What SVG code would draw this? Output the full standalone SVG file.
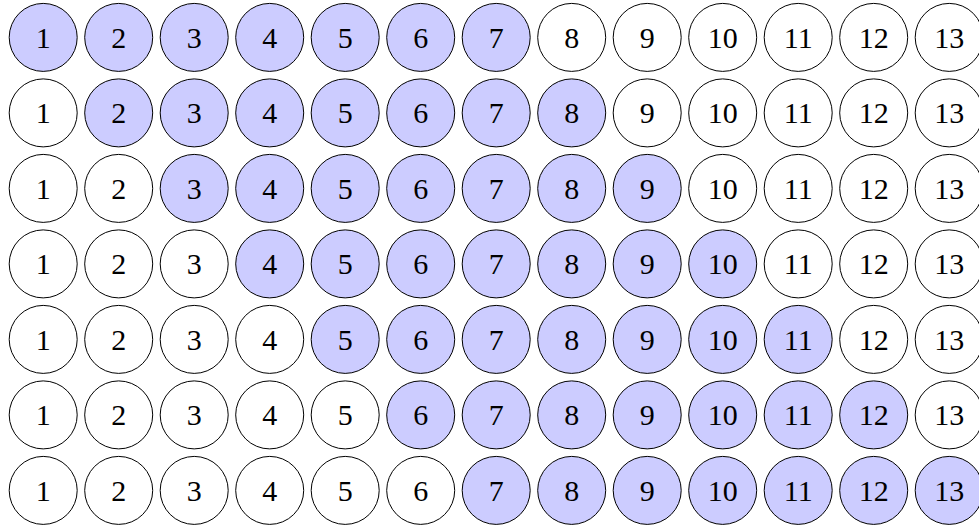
<svg xmlns="http://www.w3.org/2000/svg" width="979" height="527" viewBox="0 0 979 527">
<style>
circle{stroke:#000;stroke-width:1;fill:#fff}
.f circle{fill:#ccccff}
text{font-family:"Liberation Serif","Times New Roman",serif;font-size:30px;text-anchor:middle;fill:#000}
</style>
<rect width="979" height="527" fill="#fff"/>
<g id="row1" transform="translate(0,37.4)">
<g id="r1c1" class="f" transform="translate(43.2,0)"><circle r="34"/><text y="10.5">1</text></g>
<g id="r1c2" class="f" transform="translate(118.7,0)"><circle r="34"/><text y="10.5">2</text></g>
<g id="r1c3" class="f" transform="translate(194.2,0)"><circle r="34"/><text y="10.5">3</text></g>
<g id="r1c4" class="f" transform="translate(269.7,0)"><circle r="34"/><text y="10.5">4</text></g>
<g id="r1c5" class="f" transform="translate(345.2,0)"><circle r="34"/><text y="10.5">5</text></g>
<g id="r1c6" class="f" transform="translate(420.7,0)"><circle r="34"/><text y="10.5">6</text></g>
<g id="r1c7" class="f" transform="translate(496.2,0)"><circle r="34"/><text y="10.5">7</text></g>
<g id="r1c8" transform="translate(571.7,0)"><circle r="34"/><text y="10.5">8</text></g>
<g id="r1c9" transform="translate(647.2,0)"><circle r="34"/><text y="10.5">9</text></g>
<g id="r1c10" transform="translate(722.7,0)"><circle r="34"/><text y="10.5">10</text></g>
<g id="r1c11" transform="translate(798.2,0)"><circle r="34"/><text y="10.5">11</text></g>
<g id="r1c12" transform="translate(873.7,0)"><circle r="34"/><text y="10.5">12</text></g>
<g id="r1c13" transform="translate(949.2,0)"><circle r="34"/><text y="10.5">13</text></g>
</g>
<g id="row2" transform="translate(0,112.9)">
<g id="r2c1" transform="translate(43.2,0)"><circle r="34"/><text y="10.5">1</text></g>
<g id="r2c2" class="f" transform="translate(118.7,0)"><circle r="34"/><text y="10.5">2</text></g>
<g id="r2c3" class="f" transform="translate(194.2,0)"><circle r="34"/><text y="10.5">3</text></g>
<g id="r2c4" class="f" transform="translate(269.7,0)"><circle r="34"/><text y="10.5">4</text></g>
<g id="r2c5" class="f" transform="translate(345.2,0)"><circle r="34"/><text y="10.5">5</text></g>
<g id="r2c6" class="f" transform="translate(420.7,0)"><circle r="34"/><text y="10.5">6</text></g>
<g id="r2c7" class="f" transform="translate(496.2,0)"><circle r="34"/><text y="10.5">7</text></g>
<g id="r2c8" class="f" transform="translate(571.7,0)"><circle r="34"/><text y="10.5">8</text></g>
<g id="r2c9" transform="translate(647.2,0)"><circle r="34"/><text y="10.5">9</text></g>
<g id="r2c10" transform="translate(722.7,0)"><circle r="34"/><text y="10.5">10</text></g>
<g id="r2c11" transform="translate(798.2,0)"><circle r="34"/><text y="10.5">11</text></g>
<g id="r2c12" transform="translate(873.7,0)"><circle r="34"/><text y="10.5">12</text></g>
<g id="r2c13" transform="translate(949.2,0)"><circle r="34"/><text y="10.5">13</text></g>
</g>
<g id="row3" transform="translate(0,188.4)">
<g id="r3c1" transform="translate(43.2,0)"><circle r="34"/><text y="10.5">1</text></g>
<g id="r3c2" transform="translate(118.7,0)"><circle r="34"/><text y="10.5">2</text></g>
<g id="r3c3" class="f" transform="translate(194.2,0)"><circle r="34"/><text y="10.5">3</text></g>
<g id="r3c4" class="f" transform="translate(269.7,0)"><circle r="34"/><text y="10.5">4</text></g>
<g id="r3c5" class="f" transform="translate(345.2,0)"><circle r="34"/><text y="10.5">5</text></g>
<g id="r3c6" class="f" transform="translate(420.7,0)"><circle r="34"/><text y="10.5">6</text></g>
<g id="r3c7" class="f" transform="translate(496.2,0)"><circle r="34"/><text y="10.5">7</text></g>
<g id="r3c8" class="f" transform="translate(571.7,0)"><circle r="34"/><text y="10.5">8</text></g>
<g id="r3c9" class="f" transform="translate(647.2,0)"><circle r="34"/><text y="10.5">9</text></g>
<g id="r3c10" transform="translate(722.7,0)"><circle r="34"/><text y="10.5">10</text></g>
<g id="r3c11" transform="translate(798.2,0)"><circle r="34"/><text y="10.5">11</text></g>
<g id="r3c12" transform="translate(873.7,0)"><circle r="34"/><text y="10.5">12</text></g>
<g id="r3c13" transform="translate(949.2,0)"><circle r="34"/><text y="10.5">13</text></g>
</g>
<g id="row4" transform="translate(0,263.9)">
<g id="r4c1" transform="translate(43.2,0)"><circle r="34"/><text y="10.5">1</text></g>
<g id="r4c2" transform="translate(118.7,0)"><circle r="34"/><text y="10.5">2</text></g>
<g id="r4c3" transform="translate(194.2,0)"><circle r="34"/><text y="10.5">3</text></g>
<g id="r4c4" class="f" transform="translate(269.7,0)"><circle r="34"/><text y="10.5">4</text></g>
<g id="r4c5" class="f" transform="translate(345.2,0)"><circle r="34"/><text y="10.5">5</text></g>
<g id="r4c6" class="f" transform="translate(420.7,0)"><circle r="34"/><text y="10.5">6</text></g>
<g id="r4c7" class="f" transform="translate(496.2,0)"><circle r="34"/><text y="10.5">7</text></g>
<g id="r4c8" class="f" transform="translate(571.7,0)"><circle r="34"/><text y="10.5">8</text></g>
<g id="r4c9" class="f" transform="translate(647.2,0)"><circle r="34"/><text y="10.5">9</text></g>
<g id="r4c10" class="f" transform="translate(722.7,0)"><circle r="34"/><text y="10.5">10</text></g>
<g id="r4c11" transform="translate(798.2,0)"><circle r="34"/><text y="10.5">11</text></g>
<g id="r4c12" transform="translate(873.7,0)"><circle r="34"/><text y="10.5">12</text></g>
<g id="r4c13" transform="translate(949.2,0)"><circle r="34"/><text y="10.5">13</text></g>
</g>
<g id="row5" transform="translate(0,339.4)">
<g id="r5c1" transform="translate(43.2,0)"><circle r="34"/><text y="10.5">1</text></g>
<g id="r5c2" transform="translate(118.7,0)"><circle r="34"/><text y="10.5">2</text></g>
<g id="r5c3" transform="translate(194.2,0)"><circle r="34"/><text y="10.5">3</text></g>
<g id="r5c4" transform="translate(269.7,0)"><circle r="34"/><text y="10.5">4</text></g>
<g id="r5c5" class="f" transform="translate(345.2,0)"><circle r="34"/><text y="10.5">5</text></g>
<g id="r5c6" class="f" transform="translate(420.7,0)"><circle r="34"/><text y="10.5">6</text></g>
<g id="r5c7" class="f" transform="translate(496.2,0)"><circle r="34"/><text y="10.5">7</text></g>
<g id="r5c8" class="f" transform="translate(571.7,0)"><circle r="34"/><text y="10.5">8</text></g>
<g id="r5c9" class="f" transform="translate(647.2,0)"><circle r="34"/><text y="10.5">9</text></g>
<g id="r5c10" class="f" transform="translate(722.7,0)"><circle r="34"/><text y="10.5">10</text></g>
<g id="r5c11" class="f" transform="translate(798.2,0)"><circle r="34"/><text y="10.5">11</text></g>
<g id="r5c12" transform="translate(873.7,0)"><circle r="34"/><text y="10.5">12</text></g>
<g id="r5c13" transform="translate(949.2,0)"><circle r="34"/><text y="10.5">13</text></g>
</g>
<g id="row6" transform="translate(0,414.9)">
<g id="r6c1" transform="translate(43.2,0)"><circle r="34"/><text y="10.5">1</text></g>
<g id="r6c2" transform="translate(118.7,0)"><circle r="34"/><text y="10.5">2</text></g>
<g id="r6c3" transform="translate(194.2,0)"><circle r="34"/><text y="10.5">3</text></g>
<g id="r6c4" transform="translate(269.7,0)"><circle r="34"/><text y="10.5">4</text></g>
<g id="r6c5" transform="translate(345.2,0)"><circle r="34"/><text y="10.5">5</text></g>
<g id="r6c6" class="f" transform="translate(420.7,0)"><circle r="34"/><text y="10.5">6</text></g>
<g id="r6c7" class="f" transform="translate(496.2,0)"><circle r="34"/><text y="10.5">7</text></g>
<g id="r6c8" class="f" transform="translate(571.7,0)"><circle r="34"/><text y="10.5">8</text></g>
<g id="r6c9" class="f" transform="translate(647.2,0)"><circle r="34"/><text y="10.5">9</text></g>
<g id="r6c10" class="f" transform="translate(722.7,0)"><circle r="34"/><text y="10.5">10</text></g>
<g id="r6c11" class="f" transform="translate(798.2,0)"><circle r="34"/><text y="10.5">11</text></g>
<g id="r6c12" class="f" transform="translate(873.7,0)"><circle r="34"/><text y="10.5">12</text></g>
<g id="r6c13" transform="translate(949.2,0)"><circle r="34"/><text y="10.5">13</text></g>
</g>
<g id="row7" transform="translate(0,490.4)">
<g id="r7c1" transform="translate(43.2,0)"><circle r="34"/><text y="10.5">1</text></g>
<g id="r7c2" transform="translate(118.7,0)"><circle r="34"/><text y="10.5">2</text></g>
<g id="r7c3" transform="translate(194.2,0)"><circle r="34"/><text y="10.5">3</text></g>
<g id="r7c4" transform="translate(269.7,0)"><circle r="34"/><text y="10.5">4</text></g>
<g id="r7c5" transform="translate(345.2,0)"><circle r="34"/><text y="10.5">5</text></g>
<g id="r7c6" transform="translate(420.7,0)"><circle r="34"/><text y="10.5">6</text></g>
<g id="r7c7" class="f" transform="translate(496.2,0)"><circle r="34"/><text y="10.5">7</text></g>
<g id="r7c8" class="f" transform="translate(571.7,0)"><circle r="34"/><text y="10.5">8</text></g>
<g id="r7c9" class="f" transform="translate(647.2,0)"><circle r="34"/><text y="10.5">9</text></g>
<g id="r7c10" class="f" transform="translate(722.7,0)"><circle r="34"/><text y="10.5">10</text></g>
<g id="r7c11" class="f" transform="translate(798.2,0)"><circle r="34"/><text y="10.5">11</text></g>
<g id="r7c12" class="f" transform="translate(873.7,0)"><circle r="34"/><text y="10.5">12</text></g>
<g id="r7c13" class="f" transform="translate(949.2,0)"><circle r="34"/><text y="10.5">13</text></g>
</g>
<g id="connectors"/>
</svg>
